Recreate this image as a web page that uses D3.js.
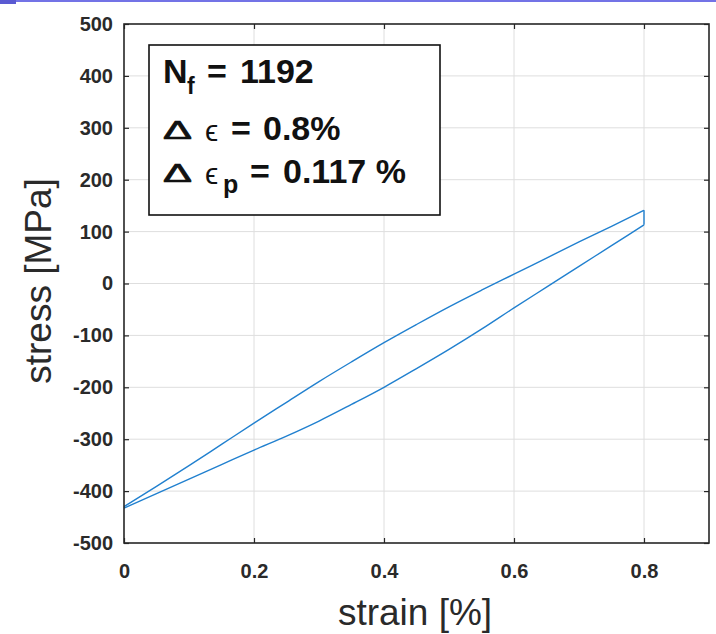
<!DOCTYPE html>
<html lang="en">
<head>
<meta charset="UTF-8">
<title>hysteresis loop</title>
<script src="https://d3js.org/d3.v7.min.js"></script>
<style>
  body { margin: 0; background: #fff; }
  text { font-family: "Liberation Sans", Arial, sans-serif; }
</style>
</head>
<body>
<script>
// strain [%] sampled along both branches
var strain = [0, 0.05, 0.1, 0.15, 0.2, 0.25, 0.3, 0.35, 0.4, 0.45, 0.5, 0.55, 0.6, 0.65, 0.7, 0.75, 0.8];
// upper branch stress [MPa]
var upperStress = [-430, -391, -351, -310, -269, -229, -189, -151, -114, -79, -45, -13, 18, 49, 80, 110, 141];
// lower branch stress [MPa]
var lowerStress = [-433, -405, -377, -349, -321, -294, -265, -233, -200, -164, -127, -88, -47, -7, 33, 73, 113];

var xTicks = [0, 0.2, 0.4, 0.6, 0.8];
var yTicks = [-500, -400, -300, -200, -100, 0, 100, 200, 300, 400, 500];

var w = 716, h = 634;
var pLeft = 124, pRight = 709, pTop = 24, pBottom = 543;

var svg = d3.select('body').append('svg')
    .attr('width', w)
    .attr('height', h);

// slide border on top
svg.append('rect').attr('x', 0).attr('y', 0).attr('width', w).attr('height', 2).attr('fill', '#7373e6');
svg.append('rect').attr('x', 0).attr('y', 0).attr('width', 16).attr('height', 4).attr('fill', '#5a5ad2');

var x = d3.scaleLinear().domain([0, 0.9]).range([pLeft, pRight]);
var y = d3.scaleLinear().domain([-500, 500]).range([pBottom, pTop]);

// grid
svg.append('g').selectAll('line').data(xTicks.slice(1)).enter().append('line')
    .attr('x1', d => x(d)).attr('x2', d => x(d))
    .attr('y1', pTop).attr('y2', pBottom)
    .attr('stroke', '#dedede').attr('stroke-width', 1);
svg.append('g').selectAll('line').data(yTicks.slice(1, -1)).enter().append('line')
    .attr('x1', pLeft).attr('x2', pRight)
    .attr('y1', d => y(d)).attr('y2', d => y(d))
    .attr('stroke', '#dedede').attr('stroke-width', 1);

// loop: upper branch, vertical drop at max strain, lower branch
var line = d3.line().x(d => x(d[0])).y(d => y(d[1])).curve(d3.curveMonotoneX);
var upper = strain.map((s, i) => [s, upperStress[i]]);
var lower = strain.map((s, i) => [s, lowerStress[i]]);
var last = strain.length - 1;
var loop = svg.append('g').attr('fill', 'none').attr('stroke', '#2180cf').attr('stroke-width', 1.4);
loop.append('path').attr('d', line(upper));
loop.append('path').attr('d', line(lower));
loop.append('line')
    .attr('x1', x(strain[last])).attr('x2', x(strain[last]))
    .attr('y1', y(upperStress[last])).attr('y2', y(lowerStress[last]));

// axes (ticks inside, MATLAB style)
var axisColor = '#262626';
var xAxis = svg.append('g').attr('transform', 'translate(0,' + pBottom + ')')
    .call(d3.axisBottom(x).tickValues(xTicks).tickSizeInner(-5).tickSizeOuter(0).tickPadding(21)
        .tickFormat(d => d === 0 ? '0' : d3.format('.1f')(d)));
var xAxisTop = svg.append('g').attr('transform', 'translate(0,' + pTop + ')')
    .call(d3.axisTop(x).tickValues(xTicks).tickSizeInner(-5).tickSizeOuter(0).tickFormat(''));
var yAxis = svg.append('g').attr('transform', 'translate(' + pLeft + ',0)')
    .call(d3.axisLeft(y).tickValues(yTicks).tickSizeInner(-5).tickSizeOuter(0).tickPadding(11)
        .tickFormat(d => String(d)));
var yAxisR = svg.append('g').attr('transform', 'translate(' + pRight + ',0)')
    .call(d3.axisRight(y).tickValues(yTicks).tickSizeInner(-5).tickSizeOuter(0).tickFormat(''));

[xAxis, xAxisTop, yAxis, yAxisR].forEach(g => {
    g.select('.domain').remove();
    g.selectAll('line').attr('stroke', axisColor).attr('stroke-width', 1.2);
    g.selectAll('text')
        .attr('fill', '#2a2a2a')
        .style('font-size', '20px')
        .style('font-weight', 'bold')
        .style('font-family', '"Liberation Sans", Arial, sans-serif');
});

// frame
svg.append('rect')
    .attr('x', pLeft).attr('y', pTop)
    .attr('width', pRight - pLeft).attr('height', pBottom - pTop)
    .attr('fill', 'none').attr('stroke', axisColor).attr('stroke-width', 1.6);

// axis labels
svg.append('text')
    .attr('x', 415).attr('y', 625)
    .attr('text-anchor', 'middle')
    .style('font-size', '37px').attr('fill', '#2a2a2a')
    .text('strain [%]');
svg.append('text')
    .attr('transform', 'translate(51,281) rotate(-90)')
    .attr('text-anchor', 'middle')
    .style('font-size', '37px').attr('fill', '#2a2a2a')
    .text('stress [MPa]');

// annotation box
svg.append('rect')
    .attr('x', 149).attr('y', 45)
    .attr('width', 291).attr('height', 170)
    .attr('fill', '#fff').attr('stroke', '#111').attr('stroke-width', 1.6);

var ann = svg.append('g').attr('fill', '#111');
function piece(px, py, str, size, bold, stretch) {
    var t = ann.append('text').attr('x', px).attr('y', py)
        .style('font-size', size + 'px')
        .style('font-weight', bold ? 'bold' : 'normal')
        .text(str);
    if (stretch) {
        t.attr('textLength', stretch).attr('lengthAdjust', 'spacingAndGlyphs')
            .attr('stroke', '#111').attr('stroke-width', 0.7);
    }
    return t;
}
// N_f = 1192
piece(163, 83, 'N', 34, true);
piece(187, 94, 'f', 23, true);
piece(207, 83, '=', 34, true);
piece(240, 83, '1192', 34, true);
// delta eps = 0.8%
piece(163, 139, '\u0394', 25, false, 29);
piece(205, 141, '\u03f5', 30, false);
piece(231, 140, '=', 34, true);
piece(263, 140, '0.8%', 34, true);
// delta eps_p = 0.117 %
piece(163, 182, '\u0394', 25, false, 29);
piece(205, 184, '\u03f5', 30, false);
piece(223, 193, 'p', 25, true);
piece(250, 183, '=', 34, true);
piece(283, 183, '0.117 %', 34, true);
</script>
</body>
</html>
